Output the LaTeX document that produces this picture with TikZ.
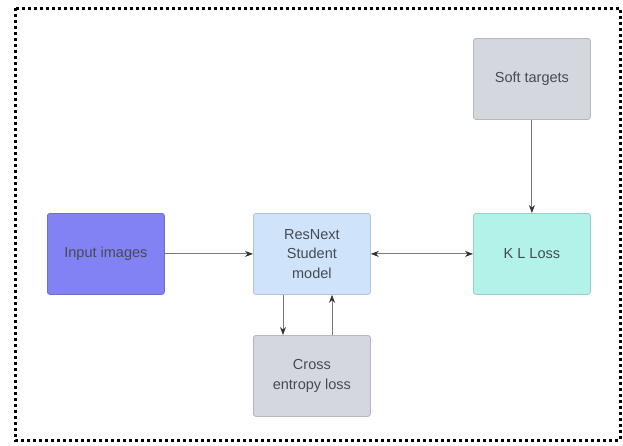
\documentclass[tikz,border=0pt]{standalone}
\usepackage{fontspec}
\setmainfont{Liberation Sans}
\usetikzlibrary{arrows.meta}
\definecolor{inputc}{HTML}{8282F4}
\definecolor{resc}{HTML}{CFE4FA}
\definecolor{klc}{HTML}{B2F2E8}
\definecolor{grayc}{HTML}{D4D8DE}
\definecolor{txtc}{HTML}{454A55}
\definecolor{linec}{HTML}{7A7A7A}
\definecolor{tipc}{HTML}{333333}
\tikzset{
  box/.style={draw=#1!85!black, fill=#1, line width=0.8pt, rounded corners=2.5pt,
    minimum width=117pt, minimum height=81pt, inner sep=2pt, align=center,
    text=txtc, font=\fontsize{14.5}{19.5}\selectfont, anchor=north west},
  tip/.tip={Stealth[length=8pt,width=6pt,color=tipc]},
  conn/.style={draw=linec, line width=0.9pt, -tip},
  frame/.style={draw=black, line width=3pt, dash pattern=on 3pt off 3pt}
}
\begin{document}
\begin{tikzpicture}[x=1pt,y=-1pt]
\useasboundingbox (0,0) rectangle (623,445);
\draw[frame] (15,8) rectangle (620,440);
\node[box=inputc] (inp) at (47,213) {Input images};
\node[box=resc] (res) at (253,213) {ResNext\\Student\\model};
\node[box=klc] (kl) at (473,213) {K L Loss};
\node[box=grayc] (soft) at (473,38) {Soft targets};
\node[box=grayc] (ce) at (253,335) {Cross\\entropy loss};
\draw[conn] (inp.east) -- (res.west);
\draw[conn, tip-tip] (res.east) -- (kl.west);
\draw[conn] (soft.south) -- (kl.north);
\draw[conn] (res.south -| 283,0) -- (ce.north -| 283,0);
\draw[conn] (ce.north -| 332,0) -- (res.south -| 332,0);
\end{tikzpicture}
\end{document}
